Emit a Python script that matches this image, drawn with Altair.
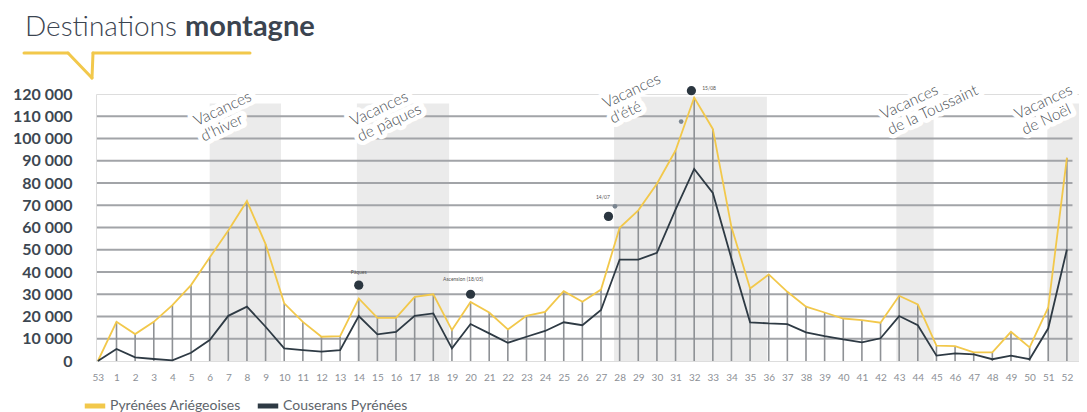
import altair as alt
import pandas as pd

# ---- data ----
weeks = ["53"] + [str(i) for i in range(1, 53)]
ariege = [0, 17600, 12100, 17600, 25100, 34100, 46500, 58700, 71900, 52500,
          25900, 17600, 10900, 11200, 28100, 19400, 19400, 28800, 30000, 13900,
          26500, 21800, 14200, 20300, 22100, 31400, 26600, 32100, 59900, 67700,
          79700, 94600, 118400, 104300, 60200, 32600, 38900, 31100, 24400, 21800,
          19100, 18400, 17200, 29300, 25400, 6900, 6700, 3900, 3900, 13100,
          6100, 24100, 91300]
couserans = [0, 5400, 1600, 900, 300, 3700, 9400, 20300, 24400, 15400,
             5700, 4900, 4200, 4900, 20200, 12000, 13100, 20300, 21400, 5700,
             16600, 12400, 8200, 10900, 13500, 17400, 16100, 22900, 45600, 45600,
             48600, 68000, 86300, 75500, 46000, 17400, 16900, 16600, 12900, 11200,
             9700, 8400, 10200, 20200, 16100, 2400, 3400, 3000, 800, 2400,
             800, 14700, 50100]
series_names = ["Pyrénées Ariégeoises", "Couserans Pyrénées"]
series_colors = ["#f2c84b", "#2e3a44"]

vac_labels = ["Vacances\nd'hiver", "Vacances\nde pâques", "Vacances\nd'été",
              "Vacances\nde la Toussaint", "Vacances\nde Noël"]
vac_start = [6, 13.9, 27.7, 42.85, 50.95]
vac_end = [9.83, 18.85, 35.9, 44.85, 52.65]
vac_top = [115700, 115700, 118800, 115700, 115700]
vac_label_x = [5.3, 13.7, 27.25, 42.15, 49.35]
vac_label_y = [105500, 105500, 113500, 108500, 108500]

ann_text = ["Pâques", "Ascension (18/05)", "14/07", "15/08"]
ann_text_x = [14, 19.6, 27.1, 32.8]
ann_text_y = [39900, 36800, 73500, 122500]
big_dot_x = [14, 20, 27.4, 31.85]
big_dot_y = [34100, 30000, 65000, 121500]
small_dot_x = [27.75, 31.3]
small_dot_y = [69500, 107600]

grid_values = list(range(10000, 120000, 10000))
y_ticks = list(range(0, 130000, 10000))

# ---- tables ----
idx = list(range(len(weeks)))
long_df = pd.DataFrame({
    "i": idx * 2,
    "v": ariege + couserans,
    "serie": [series_names[0]] * len(idx) + [series_names[1]] * len(idx),
})
drop_df = pd.DataFrame({"i": idx, "v": ariege, "z": [0] * len(idx)})
vac_df = pd.DataFrame({"s": vac_start, "e": vac_end, "t": vac_top, "b": [0] * 5})
lab_df = pd.DataFrame({"x": vac_label_x, "y": vac_label_y, "txt": vac_labels})
grid_df = pd.DataFrame({"g": grid_values, "x0": [-0.05] * len(grid_values),
                        "x1": [52.3] * len(grid_values)})
ann_df = pd.DataFrame({"x": ann_text_x, "y": ann_text_y, "txt": ann_text})
big_df = pd.DataFrame({"x": big_dot_x, "y": big_dot_y})
small_df = pd.DataFrame({"x": small_dot_x, "y": small_dot_y})
one = pd.DataFrame({"a": [0]})

FONT = "Lato"
xscale = alt.Scale(domain=[-0.1, 52.65], nice=False, zero=False)
yscale = alt.Scale(domain=[0, 120000], nice=False)

xaxis = alt.Axis(values=idx, labelExpr="datum.value == 0 ? '53' : datum.label",
                 domain=False, ticks=False, grid=False, labelPadding=11,
                 labelFontSize=10, labelColor="#8c9096", labelFont=FONT,
                 labelOverlap=False, labelFlush=False, title=None)
yaxis = alt.Axis(values=y_ticks,
                 labelExpr="replace(format(datum.value, ','), ',', ' ')",
                 domain=False, ticks=False, grid=False, labelPadding=24,
                 labelFontSize=16, labelFontWeight="bold", labelColor="#3d4751",
                 labelFont=FONT, labelOverlap=False, title=None)


def X(f):
    return alt.X(f, scale=xscale, axis=xaxis)


def Y(f):
    return alt.Y(f, scale=yscale, axis=yaxis)


shade = alt.Chart(vac_df).mark_rect(color="#ebebeb").encode(
    x=X("s:Q"), x2="e:Q", y=Y("t:Q"), y2="b:Q")

grid = alt.Chart(grid_df).mark_rule(color="#a2a4a8", strokeWidth=2).encode(
    x=X("x0:Q"), x2="x1:Q", y=Y("g:Q"))

drops = alt.Chart(drop_df).mark_rule(color="#8e9195", strokeWidth=1.6).encode(
    x=X("i:Q"), y=Y("v:Q"), y2="z:Q")

lines = alt.Chart(long_df).mark_line(strokeWidth=1.8).encode(
    x=X("i:Q"), y=Y("v:Q"),
    color=alt.Color("serie:N", sort=series_names,
                    scale=alt.Scale(domain=series_names, range=series_colors),
                    legend=alt.Legend(orient="none", legendX=-14, legendY=299,
                                      direction="horizontal", title=None,
                                      symbolType="stroke", symbolStrokeWidth=5,
                                      symbolSize=420, labelFontSize=14,
                                      labelFont=FONT, labelColor="#60656b",
                                      columnPadding=6, labelOffset=2,
                                      padding=0)),
    detail="serie:N")

big = alt.Chart(big_df).mark_point(filled=True, color="#2b3640", size=85,
                                   opacity=1).encode(x=X("x:Q"), y=Y("y:Q"))
small = alt.Chart(small_df).mark_point(filled=True, color="#7a8590", size=22,
                                       opacity=1).encode(x=X("x:Q"), y=Y("y:Q"))
ann = alt.Chart(ann_df).mark_text(fontSize=5, color="#555", font=FONT).encode(
    x=X("x:Q"), y=Y("y:Q"), text="txt:N")

halo = alt.Chart(lab_df).mark_text(
    align="left", baseline="alphabetic", angle=335, fontSize=15.5, lineHeight=17,
    lineBreak="\n", font=FONT, color="white", stroke="white", strokeWidth=9,
    strokeJoin="round").encode(x=X("x:Q"), y=Y("y:Q"), text="txt:N")
vlab = alt.Chart(lab_df).mark_text(
    align="left", baseline="alphabetic", angle=335, fontSize=15.5, lineHeight=17,
    lineBreak="\n", font=FONT, fontWeight=300, color="#4a4f55").encode(
    x=X("x:Q"), y=Y("y:Q"), text="txt:N")

title1 = alt.Chart(one).mark_text(
    align="left", baseline="alphabetic", fontSize=28, font=FONT, fontWeight=300,
    color="#3b4450", text="Destinations").encode(x=alt.value(-71), y=alt.value(-58))
title2 = alt.Chart(one).mark_text(
    align="left", baseline="alphabetic", fontSize=29, font=FONT, fontWeight="bold",
    color="#3b4450", text="montagne").encode(x=alt.value(89), y=alt.value(-58))

deco_style = dict(color="#f2c84b", strokeWidth=3, strokeCap="round")
deco1 = alt.Chart(one).mark_rule(**deco_style).encode(
    x=alt.value(-72), x2=alt.value(-28), y=alt.value(-41), y2=alt.value(-41))
deco2 = alt.Chart(one).mark_rule(**deco_style).encode(
    x=alt.value(-28), x2=alt.value(-4), y=alt.value(-41), y2=alt.value(-16))
deco3 = alt.Chart(one).mark_rule(**deco_style).encode(
    x=alt.value(-4), x2=alt.value(-3), y=alt.value(-16), y2=alt.value(-41))
deco4 = alt.Chart(one).mark_rule(**deco_style).encode(
    x=alt.value(-3), x2=alt.value(154), y=alt.value(-41), y2=alt.value(-41))

chart = alt.layer(
    shade, grid, drops, lines, small, big, ann, halo, vlab,
    title1, title2, deco1, deco2, deco3, deco4
).properties(
    width=983, height=267,
    autosize=alt.AutoSizeParams(type="none"),
    padding={"left": 88, "top": 86, "right": 0, "bottom": 51},
).configure_view(stroke=None).configure(background="white")

chart.save("out.html", embed_options={"renderer": "svg", "actions": False})
